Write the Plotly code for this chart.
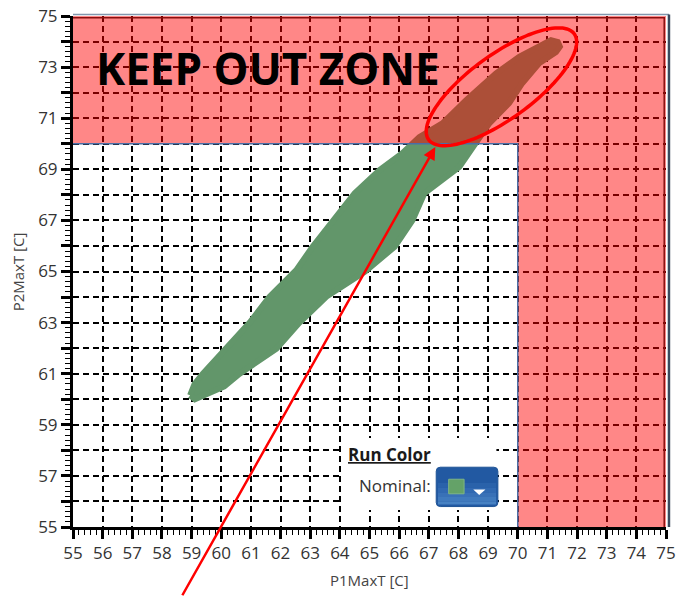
import numpy as np
import plotly.graph_objects as go

# Outline of the run cloud: upper edge from the low-left tip up to the top-right tip,
# then the lower edge back down.
cloud_p1 = [58.95, 59.10, 59.38, 60.17, 60.96, 61.63, 62.53, 63.08, 63.75, 64.50,
            65.34, 66.11, 66.68, 67.46, 68.26, 69.27, 70.05, 70.72, 71.12, 71.35, 71.42,
            71.29, 70.72, 70.15, 69.71, 69.04, 68.80, 68.59, 68.03, 66.85, 66.45,
            65.85, 64.85, 63.54, 62.64, 61.86, 60.62, 60.10, 59.38, 59.11]
cloud_p2 = [60.15, 60.60, 61.00, 61.98, 63.00, 64.01, 65.05, 65.97, 67.00, 68.06,
            68.97, 69.63, 70.26, 70.80, 71.70, 72.76, 73.40, 73.79, 74.05, 73.98, 73.80,
            73.59, 73.15, 72.37, 71.59, 70.80, 70.41, 70.02, 69.09, 68.06, 67.00,
            65.97, 65.00, 64.01, 63.00, 61.98, 61.00, 60.50, 60.09, 60.00]

axis_min, axis_max = 55, 75
keep_out_limit = 70
x_ticks = list(range(55, 76))
y_ticks = list(range(55, 76))
y_tick_text = [str(v) if v % 2 == 1 else "" for v in y_ticks]

# Highlight ellipse (centre in data units, semi-axes in pixels, tilt in degrees)
ell_center = (69.45, 72.23)
ell_a_px, ell_b_px, ell_tilt = 90, 32, 36

# Arrow from below the axis to the point where the cloud enters the zone
arrow_tip = (67.22, 69.87)
arrow_tail = (58.66, 52.27)

W, H = 678, 597
M = dict(l=73, r=12, t=16, b=70)
px_x = (W - M["l"] - M["r"]) / (axis_max - axis_min)
px_y = (H - M["t"] - M["b"]) / (axis_max - axis_min)

green = "#62966a"

fig = go.Figure()
fig.add_trace(go.Scatter(
    x=cloud_p1 + [cloud_p1[0]], y=cloud_p2 + [cloud_p2[0]],
    mode="lines", fill="toself", fillcolor=green,
    line=dict(color=green, width=6),
    hoverinfo="skip", showlegend=False,
))

shapes = []
# Keep-out zone (L-shaped: P1 > 70 or P2 > 70), drawn over the data
zone = (f"M {axis_min},{keep_out_limit} L {keep_out_limit},{keep_out_limit} "
        f"L {keep_out_limit},{axis_min} L {axis_max},{axis_min} L {axis_max},{axis_max} "
        f"L {axis_min},{axis_max} Z")
shapes.append(dict(type="path", path=zone, xref="x", yref="y", layer="above",
                   fillcolor="rgba(255,0,0,0.47)", line=dict(width=0)))
# zone inner border
shapes.append(dict(type="path", xref="x", yref="y", layer="above",
                   path=f"M {axis_min},{keep_out_limit} L {keep_out_limit},{keep_out_limit} L {keep_out_limit},{axis_min}",
                   line=dict(color="#4a6ea6", width=1.5)))
# zone outer border (top and right)
shapes.append(dict(type="path", xref="x", yref="y", layer="above",
                   path=f"M {axis_min},74.93 L 74.94,74.93 L 74.94,{axis_min}",
                   line=dict(color="#8a1010", width=1.5)))
# plot frame top / right
shapes.append(dict(type="line", xref="paper", yref="paper", x0=0, x1=1.005, y0=1.003, y1=1.003,
                   layer="above", line=dict(color="#8396ad", width=1.5)))
shapes.append(dict(type="line", xref="paper", yref="paper", x0=1.005, x1=1.005, y0=0, y1=1.003,
                   layer="above", line=dict(color="#3c4a5e", width=2.5)))

# highlight ellipse
t = np.linspace(0, 2 * np.pi, 121)
phi = np.radians(ell_tilt)
ex = ell_center[0] + (ell_a_px * np.cos(t) * np.cos(phi) - ell_b_px * np.sin(t) * np.sin(phi)) / px_x
ey = ell_center[1] + (ell_a_px * np.cos(t) * np.sin(phi) + ell_b_px * np.sin(t) * np.cos(phi)) / px_y
ell_path = "M " + " L ".join(f"{a:.4f},{b:.4f}" for a, b in zip(ex, ey)) + " Z"
shapes.append(dict(type="path", path=ell_path, xref="x", yref="y", layer="above",
                   line=dict(color="#ff0000", width=3.5)))

# Run Color selector panel
shapes.append(dict(type="rect", xref="x", yref="y", x0=64.09, x1=69.28, y0=55.67, y1=58.48,
                   layer="above", fillcolor="white", line=dict(width=0)))


def rounded_rect(x0, x1, y0, y1, r_px):
    rx, ry = r_px / px_x, r_px / px_y
    return (f"M {x0 + rx},{y1} L {x1 - rx},{y1} Q {x1},{y1} {x1},{y1 - ry} "
            f"L {x1},{y0 + ry} Q {x1},{y0} {x1 - rx},{y0} L {x0 + rx},{y0} "
            f"Q {x0},{y0} {x0},{y0 + ry} L {x0},{y1 - ry} Q {x0},{y1} {x0 + rx},{y1} Z")


btn_x0, btn_x1, btn_y0, btn_y1 = 67.25, 69.33, 55.80, 57.34
shapes.append(dict(type="path", xref="x", yref="y", layer="above",
                   path=rounded_rect(btn_x0, btn_x1, btn_y0, btn_y1, 4),
                   fillcolor="#2259a2", line=dict(color="#1f5496", width=1)))
# lighter lower part of the button face (vertical shading)
shade = ["#2a62aa", "#3169b1", "#3971b7", "#407abd", "#4782c3"]
band_h = (btn_y1 - btn_y0) * 0.6 / len(shade)
for i, c in enumerate(shade):
    top = btn_y0 + (btn_y1 - btn_y0) * 0.6 - i * band_h
    shapes.append(dict(type="rect", xref="x", yref="y", layer="above",
                       x0=btn_x0 + 0.06, x1=btn_x1 - 0.06, y0=max(btn_y0 + 0.08, top - band_h), y1=top,
                       fillcolor=c, line=dict(width=0)))
shapes.append(dict(type="rect", xref="x", yref="y", x0=67.67, x1=68.19, y0=56.30, y1=56.87,
                   layer="above", fillcolor="#64a268", line=dict(color="#7fb585", width=1)))
shapes.append(dict(type="path", xref="x", yref="y", layer="above",
                   path="M 68.50,56.47 L 68.91,56.47 L 68.70,56.25 Z",
                   fillcolor="white", line=dict(width=0)))

title_font = dict(family="Open Sans", size=15, color="#444444")
annotations = [
    dict(x=55.7, y=72.95, xref="x", yref="y", text="<b>KEEP OUT ZONE</b>", showarrow=False,
         xanchor="left", yanchor="middle", font=dict(family="Open Sans", size=44, color="black")),
    dict(x=64.2, y=57.82, xref="x", yref="y", text="<b><u>Run Color</u></b>", showarrow=False,
         xanchor="left", yanchor="middle", font=dict(family="Open Sans", size=17, color="#1a1a1a")),
    dict(x=67.15, y=56.61, xref="x", yref="y", text="Nominal:", showarrow=False,
         xanchor="right", yanchor="middle", font=dict(family="Open Sans", size=17, color="#333333")),
    dict(x=0.5, y=-0.104, xref="paper", yref="paper", text="P1MaxT [C]", showarrow=False,
         xanchor="center", yanchor="middle", font=title_font),
    dict(x=-0.093, y=0.5, xref="paper", yref="paper", text="P2MaxT [C]", showarrow=False,
         textangle=-90, xanchor="center", yanchor="middle", font=title_font),
    dict(x=arrow_tip[0], y=arrow_tip[1], ax=arrow_tail[0], ay=arrow_tail[1],
         xref="x", yref="y", axref="x", ayref="y", text="", showarrow=True,
         arrowhead=2, arrowsize=1, arrowwidth=2.5, arrowcolor="#ff0000", standoff=0),
]

axis_common = dict(
    range=[axis_min, axis_max], showline=True, linecolor="black", linewidth=3,
    ticks="outside", ticklen=9, tickwidth=3, tickcolor="black", automargin=False,
    showgrid=True, gridcolor="black", gridwidth=1.5, griddash="6px,4px",
    zeroline=False, tickfont=dict(family="Open Sans", size=17, color="#333333"),
    minor=dict(dtick=0.2, ticks="outside", ticklen=5, tickwidth=1.2, tickcolor="black", showgrid=False),
)

fig.update_layout(
    width=W, height=H, margin=M,
    paper_bgcolor="white", plot_bgcolor="white", showlegend=False,
    xaxis=dict(**axis_common, tickmode="array", tickvals=x_ticks),
    yaxis=dict(**axis_common, tickmode="array", tickvals=y_ticks, ticktext=y_tick_text),
    shapes=shapes, annotations=annotations,
)

fig.write_html("out.html")
